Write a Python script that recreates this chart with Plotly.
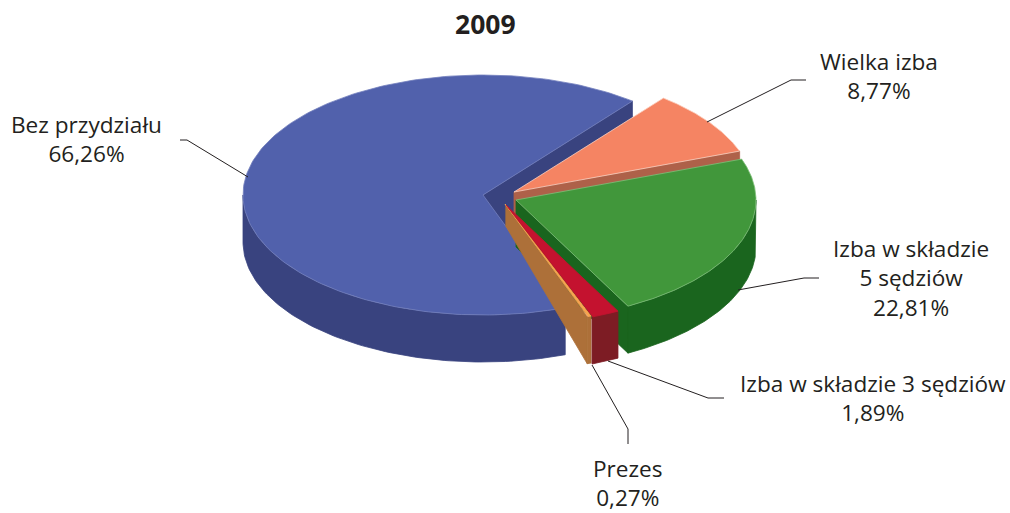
import math
import plotly.graph_objects as go

# ---- data ----
categories = ["Bez przydziału", "Prezes", "Izba w składzie 3 sędziów", "Izba w składzie 5 sędziów", "Wielka izba"]
values = [66.26, 0.27, 1.89, 22.81, 8.77]
value_labels = ["66,26%", "0,27%", "1,89%", "22,81%", "8,77%"]
title_text = "2009"

# ---- styling / projection ----
START_ANGLE = 51.5
RX, RY, DEPTH = 240.0, 120.0, 47.0
tips = [(483, 195), (505, 204), (506, 205), (516, 200), (514, 192)]
top_colors = ["#5161AC", "#F9A350", "#C4122F", "#41973B", "#F58463"]
wall_colors = ["#39437F", "#AD7039", "#7D1C24", "#1A651E", "#AE6149"]
edge_colors = ["#7380BE", "#F9A350", "#C4122F", "#7FBF7A", "#FBD0C0"]
FONT = "Open Sans"
TEXT = "#231F20"

total = sum(values)
spans = []
a = START_ANGLE
for v in values:
    b = a + v / total * 360
    spans.append((a, b))
    a = b


def rim(i, a0, a1, n=90):
    cx, cy = tips[i]
    pts = []
    for k in range(n + 1):
        t = math.radians(a0 + (a1 - a0) * k / n)
        pts.append((cx + RX * math.cos(t), cy - RY * math.sin(t)))
    return pts


def poly(pts, fill, name, line=None, width=0.8):
    return go.Scatter(
        x=[p[0] for p in pts] + [pts[0][0]],
        y=[p[1] for p in pts] + [pts[0][1]],
        mode="lines", fill="toself", fillcolor=fill,
        line=dict(color=line or fill, width=width),
        hoverinfo="text", text=name, showlegend=False,
    )


def cut_wall(i, angle, tip_depth=DEPTH, skip=0.0):
    cx, cy = tips[i]
    end = rim(i, angle, angle, 1)[0]
    sx, sy = cx + (end[0] - cx) * skip, cy + (end[1] - cy) * skip
    return [(sx, sy), end, (end[0], end[1] + DEPTH), (sx, sy + tip_depth)]


def outer_wall(i, a0, a1):
    top = rim(i, a0, a1)
    return top + [(x, y + DEPTH) for x, y in reversed(top)]


def top_face(i):
    a0, a1 = spans[i]
    return [tips[i]] + rim(i, a0, a1, 180)


fig = go.Figure()
# Bez przydziału
a0, a1 = spans[0]
fig.add_trace(poly(cut_wall(0, a0), wall_colors[0], categories[0]))
fig.add_trace(poly(outer_wall(0, 180, a1), wall_colors[0], categories[0]))
fig.add_trace(poly(top_face(0), top_colors[0], categories[0], edge_colors[0]))
# Wielka izba
a0, a1 = spans[4]
fig.add_trace(poly(cut_wall(4, a0), wall_colors[4], categories[4]))
fig.add_trace(poly(top_face(4), top_colors[4], categories[4], edge_colors[4]))
# Izba 5
a0, a1 = spans[3]
fig.add_trace(poly(cut_wall(3, a0), wall_colors[3], categories[3]))
fig.add_trace(poly(outer_wall(3, a0, 360), wall_colors[3], categories[3]))
fig.add_trace(poly(top_face(3), top_colors[3], categories[3], edge_colors[3]))
# Prezes
a0, a1 = spans[1]
fig.add_trace(poly(cut_wall(1, a0, tip_depth=21, skip=0.01), wall_colors[1], categories[1]))
fig.add_trace(poly(outer_wall(1, a0, a1), wall_colors[1], categories[1]))
fig.add_trace(poly(top_face(1), top_colors[1], categories[1]))
# Izba 3
a0, a1 = spans[2]
fig.add_trace(poly(outer_wall(2, a0, a1), wall_colors[2], categories[2]))
fig.add_trace(poly(top_face(2), top_colors[2], categories[2]))

# ---- leader lines and labels ----
leaders = [
    [(248, 177), (187, 140), (180, 140)],
    [(592, 365), (628, 429), (628, 444)],
    [(608, 361), (708, 398), (724, 398)],
    [(738, 290), (804, 278), (819, 278)],
    [(707, 122), (791, 80), (806, 80)],
]
for pts in leaders:
    fig.add_trace(go.Scatter(x=[p[0] for p in pts], y=[p[1] for p in pts], mode="lines",
                             line=dict(color="#231F20", width=1), hoverinfo="skip", showlegend=False))

label_texts = [
    f"{categories[0]}<br>{value_labels[0]}",
    f"{categories[1]}<br>{value_labels[1]}",
    f"{categories[2]}<br>{value_labels[2]}",
    f"Izba w składzie<br>5 sędziów<br>{value_labels[3]}",
    f"{categories[4]}<br>{value_labels[4]}",
]
label_pos = [(86, 139), (627.5, 483), (872.5, 398), (911, 278), (879, 76)]
for txt, (x, y) in zip(label_texts, label_pos):
    fig.add_annotation(x=x, y=y, text=txt, showarrow=False, xanchor="center", yanchor="middle",
                       font=dict(family=FONT, size=22.6, color=TEXT), align="center")
fig.add_annotation(x=485.5, y=24, text=f"<b>{title_text}</b>", showarrow=False,
                   font=dict(family=FONT, size=26.5, color=TEXT))

fig.update_layout(
    width=1010, height=513, margin=dict(l=0, r=0, t=0, b=0),
    paper_bgcolor="white", plot_bgcolor="white", showlegend=False,
    xaxis=dict(range=[0, 1010], visible=False, fixedrange=True),
    yaxis=dict(range=[513, 0], visible=False, fixedrange=True),
)
fig.write_html("out.html", config={"displayModeBar": False},
               post_script="document.body.style.margin='0';document.documentElement.style.overflow='hidden';")
